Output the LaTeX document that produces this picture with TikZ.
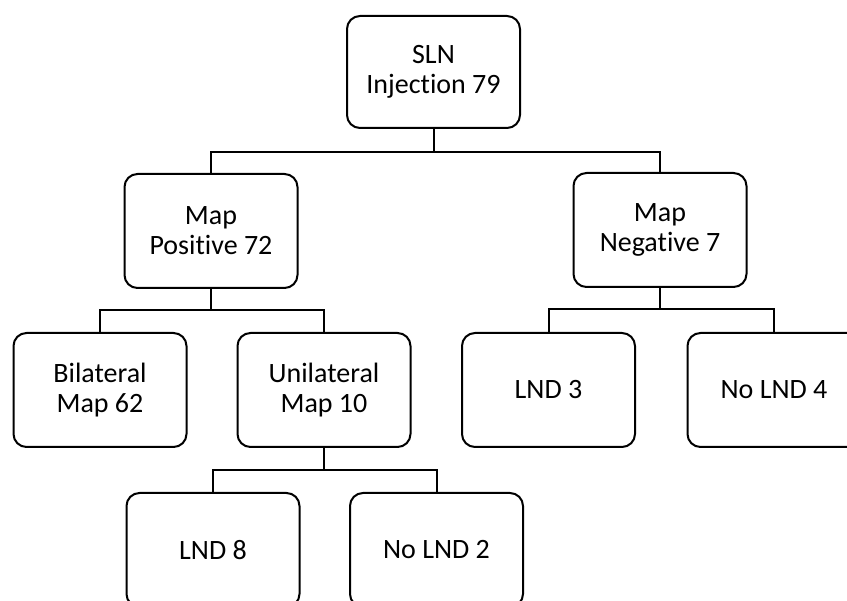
\documentclass[tikz,border=0pt]{standalone}
\usepackage{fontspec}
\setmainfont{Carlito}[Ligatures={NoCommon}]
\begin{document}
\begin{tikzpicture}[x=1pt,y=-1pt,
  box/.style={draw, line width=2pt, rounded corners=13pt, minimum width=173pt, minimum height=114pt, align=center, inner sep=0pt, font=\fontsize{28}{30}\selectfont},
  link/.style={line width=2pt}]
\useasboundingbox (0,0) rectangle (847,601);
\clip (0,0) rectangle (847,601);
\node[box, minimum height=112pt] (sln) at (433.5,72) {SLN\\Injection 79};
\node[box] (pos) at (211,231) {Map\\Positive 72};
\node[box] (neg) at (660,230) {Map\\Negative 7};
\node[box] (bil) at (100,390) {Bilateral\\Map 62};
\node[box] (uni) at (324,390) {Unilateral\\Map 10};
\node[box] (lnd3) at (548.5,390) {LND 3};
\node[box] (nolnd4) at (774,390) {No LND 4};
\node[box] (lnd8) at (213,550) {LND 8};
\node[box] (nolnd2) at (436.5,550) {No LND 2};
\coordinate (b1) at (433.5,152);
\coordinate (b2) at (211,310);
\coordinate (b3) at (660,309);
\coordinate (b4) at (324,470);
\draw[link] (sln.south) -- (b1);
\draw[link] (pos.north) |- (b1) -| (neg.north);
\draw[link] (pos.south) -- (b2);
\draw[link] (bil.north) |- (b2) -| (uni.north);
\draw[link] (neg.south) -- (b3);
\draw[link] (lnd3.north) |- (b3) -| (nolnd4.north);
\draw[link] (uni.south) -- (b4);
\draw[link] (lnd8.north) |- (b4) -| (nolnd2.north);
\end{tikzpicture}
\end{document}
